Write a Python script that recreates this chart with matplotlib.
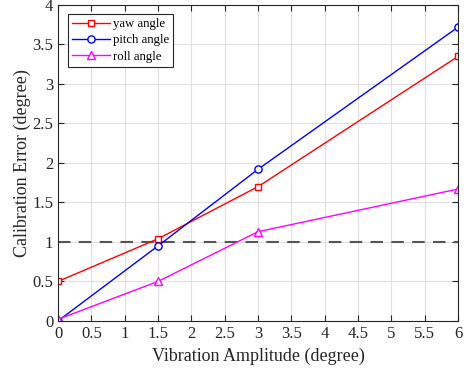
import numpy as np
import matplotlib
matplotlib.use('Agg')
import matplotlib.pyplot as plt

plt.rcParams['font.family'] = ['Liberation Serif', 'DejaVu Serif']
plt.rcParams['mathtext.fontset'] = 'stix'

# 数据
amplitude = [0, 1.5, 3, 6]
yaw_err = [0.50, 1.04, 1.70, 3.35]
pitch_err = [0.00, 0.95, 1.92, 3.72]
roll_err = [0.02, 0.50, 1.13, 1.67]
threshold = 1.0

fig = plt.figure(figsize=(4.66, 3.71), dpi=100)
ax = fig.add_axes([0.1245, 0.135, 0.8585, 0.8515])

ax.plot(amplitude, yaw_err, color='red', marker='s', markersize=4.6,
        markerfacecolor='white', markeredgecolor='red', linewidth=1, label='yaw angle')
ax.plot(amplitude, pitch_err, color='blue', marker='o', markersize=5.2,
        markerfacecolor='white', markeredgecolor='blue', linewidth=1, label='pitch angle')
ax.plot(amplitude, roll_err, color='magenta', marker='^', markersize=6,
        markerfacecolor='white', markeredgecolor='magenta', linewidth=1, label='roll angle')
ax.axhline(threshold, color='#555555', linestyle=(0, (6, 4)), linewidth=1.5, zorder=1)

ax.set_xlim(0, 6)
ax.set_ylim(0, 4)
ax.set_xticks(np.arange(0, 6.01, 0.5))
ax.set_yticks(np.arange(0, 4.01, 0.5))
ax.set_xticklabels(['0', '0.5', '1', '1.5', '2', '2.5', '3', '3.5', '4', '4.5', '5', '5.5', '6'])
ax.set_yticklabels(['0', '0.5', '1', '1.5', '2', '2.5', '3', '3.5', '4'])

ax.grid(True, color='#E0E0E0', linewidth=0.8)
ax.set_axisbelow(True)
ax.tick_params(direction='in', top=True, right=True, labelsize=12, length=4, colors='#262626')
for sp in ax.spines.values():
    sp.set_color('#262626')
    sp.set_linewidth(0.8)

ax.set_xlabel('Vibration Amplitude (degree)', fontsize=13, labelpad=4, color='#262626')
ax.set_ylabel('Calibration Error (degree)', fontsize=13, labelpad=1, color='#262626')

leg = ax.legend(loc='upper left', bbox_to_anchor=(0.025, 0.972), fontsize=9.2, fancybox=False,
                edgecolor='#262626', framealpha=1, handlelength=2.9, borderpad=0.35,
                labelspacing=0.32, handletextpad=0.25, borderaxespad=0)
leg.get_frame().set_linewidth(0.8)

plt.savefig('out.png', dpi=100)
